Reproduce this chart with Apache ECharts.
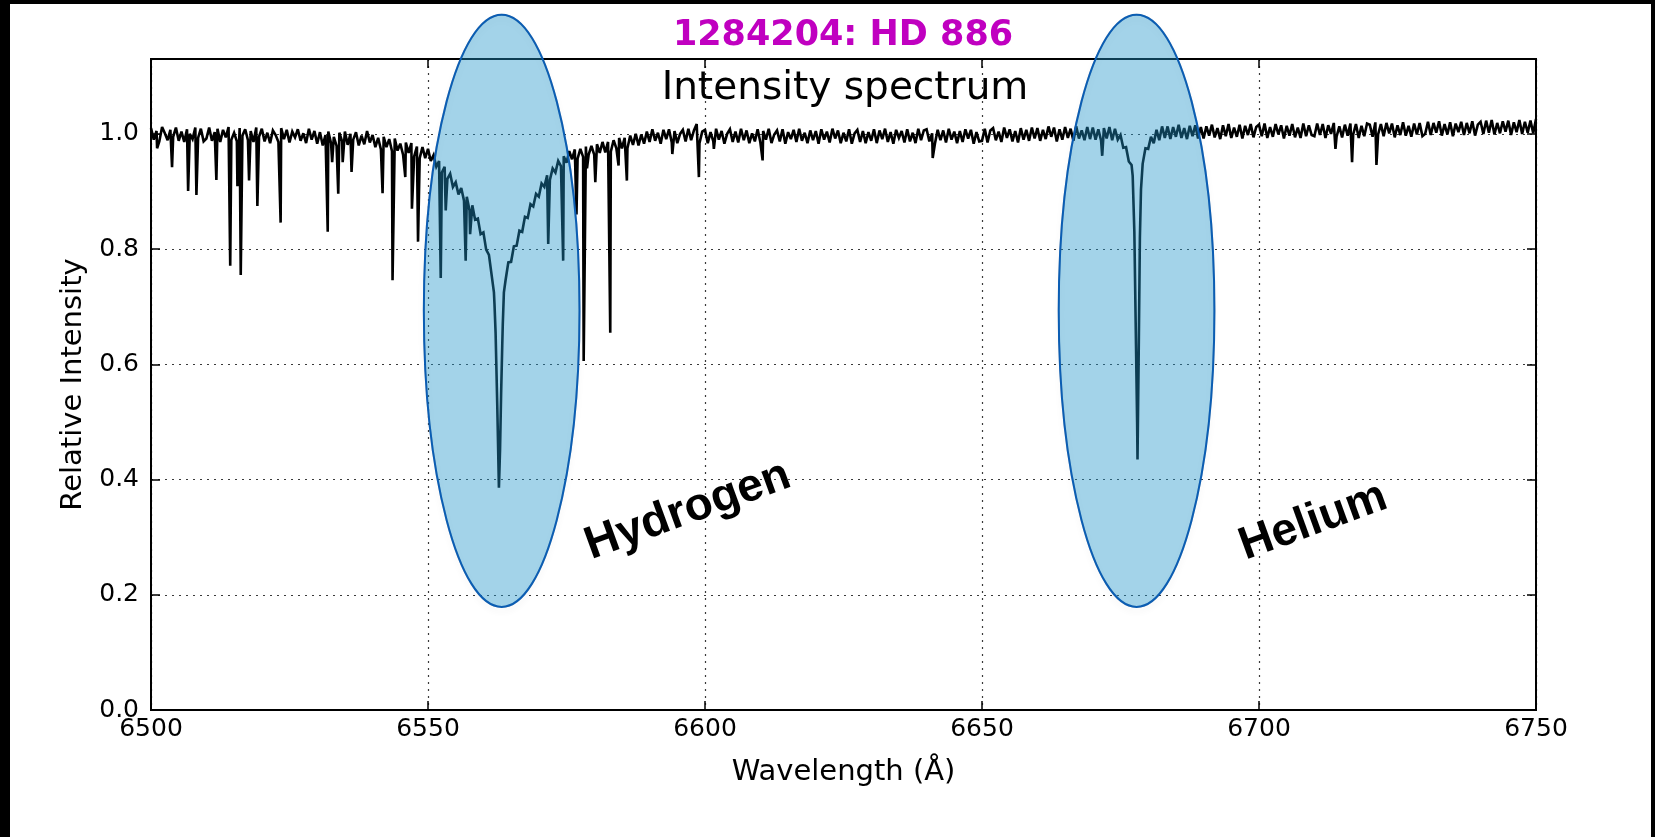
<!DOCTYPE html>
<html>
<head>
<meta charset="utf-8">
<title>1284204: HD 886 – Intensity spectrum</title>
<script src="https://cdn.jsdelivr.net/npm/echarts@6/dist/echarts.min.js"></script>
<style>
  html, body { margin: 0; padding: 0; background: #fff; }
  #chart { width: 1655px; height: 837px; }
</style>
</head>
<body>
<div id="chart"></div>
<script>
// ---------------------------------------------------------------
// Spectrum samples: relative intensity on a regular 0.5 Å grid
// starting at 6500 Å (one row = 10 Å).
// ---------------------------------------------------------------
const gridStart = 6500;
const gridStep = 0.5;
const fluxGrid = [
  // 6500
  1.010, 0.990, 1.005, 0.987, 1.012, 1.001, 0.989, 1.007, 0.995, 1.011, 0.988, 1.004, 0.986, 1.008, 1.000, 0.991, 1.011, 0.993, 1.009, 0.987,
  // 6510
  0.992, 1.011, 0.988, 1.003, 1.009, 0.986, 1.007, 0.994, 1.012, 0.990, 1.002, 0.987, 1.010, 0.997, 1.008, 0.989, 1.005, 0.986, 1.011, 0.995,
  // 6520
  1.009, 0.987, 1.002, 0.984, 1.006, 0.998, 0.986, 1.010, 0.991, 1.007, 0.985, 1.004, 0.994, 1.008, 0.988, 1.001, 0.984, 1.009, 0.990, 1.005,
  // 6530
  0.983, 1.003, 0.980, 0.998, 1.004, 0.984, 0.995, 0.979, 1.002, 0.987, 1.004, 0.981, 1.000, 0.990, 1.003, 0.980, 0.997, 0.982, 1.005, 0.985,
  // 6540
  0.998, 0.977, 0.993, 0.973, 0.995, 0.977, 0.991, 0.970, 0.992, 0.971, 0.983, 0.964, 0.985, 0.967, 0.984, 0.961, 0.978, 0.958, 0.977, 0.958,
  // 6550  (H-alpha blue wing)
  0.974, 0.953, 0.963, 0.943, 0.953, 0.933, 0.943, 0.922, 0.931, 0.908, 0.916, 0.895, 0.906, 0.884, 0.891, 0.867, 0.876, 0.851, 0.853, 0.826,
  // 6560  (H-alpha core and red wing)
  0.829, 0.799, 0.790, 0.754, 0.705, 0.530, 0.450, 0.670, 0.746, 0.777, 0.778, 0.805, 0.806, 0.832, 0.830, 0.856, 0.854, 0.878, 0.874, 0.896,
  // 6570
  0.891, 0.914, 0.908, 0.928, 0.920, 0.940, 0.933, 0.953, 0.944, 0.961, 0.950, 0.970, 0.956, 0.973, 0.957, 0.974, 0.960, 0.978, 0.964, 0.979,
  // 6580
  0.964, 0.982, 0.967, 0.986, 0.968, 0.986, 0.969, 0.989, 0.975, 0.993, 0.975, 0.993, 0.975, 0.997, 0.981, 1.000, 0.980, 0.999, 0.983, 1.004,
  // 6590
  0.986, 1.008, 0.988, 1.002, 0.983, 1.007, 0.991, 1.008, 0.985, 1.005, 0.984, 1.000, 1.007, 0.987, 1.009, 0.989, 1.006, 1.017, 0.984, 1.004,
  // 6600
  1.007, 0.984, 1.003, 0.987, 1.009, 0.990, 1.005, 0.983, 1.000, 1.008, 0.986, 1.004, 0.985, 1.009, 0.989, 1.006, 0.984, 1.001, 0.987, 1.008,
  // 6610
  0.985, 1.005, 0.990, 1.009, 0.984, 0.999, 1.006, 0.987, 1.008, 0.983, 1.003, 0.991, 1.007, 0.986, 1.009, 0.988, 1.002, 0.984, 1.006, 0.989,
  // 6620
  1.005, 0.983, 1.008, 0.990, 1.004, 0.985, 1.009, 0.992, 1.006, 0.984, 1.002, 0.987, 1.008, 0.983, 1.001, 1.007, 0.986, 1.005, 0.984, 1.003,
  // 6630
  0.988, 1.008, 0.984, 1.006, 0.991, 1.009, 0.986, 1.003, 0.983, 1.007, 0.993, 1.005, 0.985, 1.008, 0.987, 1.002, 0.984, 1.009, 0.989, 1.006,
  // 6640
  1.008, 0.987, 1.001, 0.983, 1.007, 0.989, 1.006, 0.985, 1.009, 0.990, 1.004, 0.984, 1.005, 0.986, 1.008, 0.992, 1.007, 0.983, 1.003, 0.987,
  // 6650
  0.988, 1.009, 0.985, 1.006, 1.010, 0.989, 1.004, 0.986, 1.011, 0.993, 1.008, 0.987, 1.005, 0.985, 1.010, 0.990, 1.007, 0.988, 1.011, 0.992,
  // 6660
  1.010, 0.988, 1.007, 0.991, 1.013, 0.995, 1.011, 0.987, 1.008, 0.990, 1.012, 0.993, 1.009, 0.988, 1.013, 0.992, 1.006, 0.989, 1.012, 0.991,
  // 6670  (He I 6678)
  1.011, 0.990, 1.008, 0.988, 1.010, 0.992, 1.012, 0.989, 1.009, 0.990, 0.998, 0.976, 0.977, 0.952, 0.946, 0.830, 0.500, 0.820, 0.948, 0.975,
  // 6680
  0.974, 0.995, 0.984, 1.007, 0.989, 1.013, 0.993, 1.013, 0.991, 1.012, 0.995, 1.016, 0.993, 1.010, 0.991, 1.014, 0.996, 1.015, 0.992, 1.012,
  // 6690
  0.992, 1.013, 0.997, 1.016, 0.994, 1.010, 0.991, 1.015, 0.996, 1.017, 0.993, 1.011, 0.995, 1.016, 0.992, 1.014, 0.998, 1.017, 0.994, 1.012,
  // 6700
  1.016, 0.996, 1.018, 0.993, 1.012, 0.995, 1.017, 0.999, 1.015, 0.992, 1.014, 0.997, 1.017, 0.994, 1.011, 0.993, 1.018, 0.996, 1.015, 0.998,
  // 6710
  0.996, 1.018, 0.998, 1.017, 0.993, 1.015, 1.000, 1.019, 0.995, 1.013, 0.994, 1.016, 0.997, 1.018, 0.999, 1.017, 0.993, 1.014, 0.996, 1.018,
  // 6720
  1.016, 0.995, 1.020, 0.999, 1.017, 0.996, 1.019, 1.001, 1.018, 0.994, 1.015, 0.998, 1.020, 0.997, 1.014, 0.995, 1.018, 0.999, 1.019, 0.996,
  // 6730
  1.000, 1.021, 0.998, 1.019, 1.002, 1.022, 0.997, 1.017, 0.999, 1.020, 0.996, 1.018, 1.003, 1.021, 0.998, 1.019, 1.001, 1.022, 0.997, 1.016,
  // 6740
  1.021, 1.000, 1.023, 1.002, 1.024, 0.999, 1.019, 1.001, 1.022, 1.004, 1.023, 0.998, 1.020, 1.003, 1.024, 1.000, 1.021, 1.002, 1.023, 1.001,
  // 6750
  1.026
];

// Narrow metal / telluric absorption lines: [wavelength Å, relative intensity at line centre]
const absorptionLines = [
  [6501.1, 0.975], [6503.8, 0.942], [6506.7, 0.901], [6508.2, 0.894], [6511.8, 0.920],
  [6514.3, 0.771], [6515.6, 0.909], [6516.2, 0.755], [6517.7, 0.919], [6519.2, 0.875],
  [6523.4, 0.846], [6531.9, 0.830], [6532.7, 0.951], [6533.8, 0.896], [6534.6, 0.951],
  [6536.2, 0.934], [6541.8, 0.897], [6543.6, 0.746], [6545.9, 0.925], [6547.1, 0.870],
  [6548.2, 0.813], [6552.3, 0.750], [6553.2, 0.867], [6556.8, 0.780], [6557.6, 0.826],
  [6571.7, 0.809], [6574.4, 0.780], [6576.8, 0.860], [6578.1, 0.606], [6578.7, 0.940],
  [6580.2, 0.916], [6582.9, 0.655], [6584.4, 0.945], [6585.9, 0.919], [6594.1, 0.965],
  [6598.9, 0.925], [6601.6, 0.974], [6610.4, 0.954], [6641.1, 0.958], [6671.7, 0.962],
  [6713.8, 0.974], [6716.8, 0.951], [6721.2, 0.946]
];

// Extra samples through the narrow cores of the two strong lines
const hAlphaCore = [[6561.9, 0.725], [6562.2, 0.655], [6562.8, 0.386], [6563.2, 0.550], [6563.4, 0.632], [6563.7, 0.725]];
const heCore = [[6677.2, 0.927], [6677.8, 0.632], [6678.07, 0.435], [6678.3, 0.632], [6678.7, 0.904]];

// Highlighted spectral features
const featureNames = ['Hydrogen', 'Helium'];
const featureLines = [6563.3, 6677.9];   // Å

// ---------------------------------------------------------------
// Annotation layout (data units)
// ---------------------------------------------------------------
const ELLIPSE = { cy: 0.693, rx: 14.05, ry: 0.514 };
const LABEL = { dx: [33.6, 31.9], y: [0.346, 0.327], angle: 20 };

const spectrum = fluxGrid
  .map((f, i) => [gridStart + i * gridStep, f])
  .concat(absorptionLines, hAlphaCore, heCore)
  .sort((a, b) => a[0] - b[0]);

const FONT = "'DejaVu Sans', 'Noto Sans', sans-serif";

const chart = echarts.init(document.getElementById('chart'), null, { renderer: 'canvas' });

const axisLineStyle = { color: '#000', width: 2 };
const tickStyle = { show: true, inside: true, length: 9, lineStyle: { color: '#000', width: 1.5 } };
const dotted = { show: true, lineStyle: { color: '#3a3a3a', width: 1.2, type: [2, 5] } };

chart.setOption({
  animation: false,
  backgroundColor: '#fff',
  title: [
    {
      text: '1284204: HD 886',
      left: 843, top: 18, textAlign: 'center', padding: 0,
      textStyle: { color: '#c000c0', fontFamily: FONT, fontWeight: 'bold', fontSize: 35 }
    },
    {
      text: 'Intensity spectrum',
      left: 845, top: 69, textAlign: 'center', padding: 0,
      textStyle: { color: '#000', fontFamily: FONT, fontWeight: 'normal', fontSize: 39 }
    }
  ],
  grid: {
    left: 151, top: 59, width: 1385, height: 651,
    show: true, borderColor: '#000', borderWidth: 2, backgroundColor: 'transparent'
  },
  xAxis: [
    {
      type: 'value', min: 6500, max: 6750, interval: 50, position: 'bottom',
      axisLine: { show: true, onZero: false, lineStyle: axisLineStyle },
      axisTick: tickStyle,
      axisLabel: { color: '#000', fontFamily: FONT, fontSize: 25, margin: 7, formatter: v => String(v) },
      splitLine: dotted,
      name: 'Wavelength (Å)', nameLocation: 'middle', nameGap: 48,
      nameTextStyle: { color: '#000', fontFamily: FONT, fontSize: 29 }
    },
    {
      type: 'value', min: 6500, max: 6750, interval: 50, position: 'top',
      axisLine: { show: true, onZero: false, lineStyle: axisLineStyle },
      axisTick: tickStyle, axisLabel: { show: false }, splitLine: { show: false }
    }
  ],
  yAxis: [
    {
      type: 'value', min: 0, max: 1.13, interval: 0.2, position: 'left',
      axisLine: { show: true, onZero: false, lineStyle: axisLineStyle },
      axisTick: tickStyle,
      axisLabel: { color: '#000', fontFamily: FONT, fontSize: 25, margin: 12, showMaxLabel: false,
                   formatter: v => v.toFixed(1) },
      splitLine: dotted,
      name: 'Relative Intensity', nameLocation: 'middle', nameGap: 63, nameRotate: 90,
      nameTextStyle: { color: '#000', fontFamily: FONT, fontSize: 29 }
    },
    {
      type: 'value', min: 0, max: 1.13, interval: 0.2, position: 'right',
      axisLine: { show: true, onZero: false, lineStyle: axisLineStyle },
      axisTick: tickStyle, axisLabel: { show: false }, splitLine: { show: false }
    }
  ],
  series: [
    {
      name: 'Intensity', type: 'line', data: spectrum,
      xAxisIndex: 0, yAxisIndex: 0,
      showSymbol: false, symbol: 'none', sampling: null, smooth: false,
      lineStyle: { color: '#000', width: 2.6, join: 'miter', miterLimit: 3 }, z: 2, silent: true
    },
    {
      name: 'Line regions', type: 'custom', coordinateSystem: 'cartesian2d',
      xAxisIndex: 0, yAxisIndex: 0, clip: false, silent: true, z: 3,
      data: featureLines.map(w => [w, ELLIPSE.cy]),
      renderItem: (params, api) => {
        const c = api.coord([api.value(0), api.value(1)]);
        const s = api.size([ELLIPSE.rx, ELLIPSE.ry]);
        const shape = { cx: c[0], cy: c[1], rx: s[0], ry: s[1] };
        return {
          type: 'group',
          children: [
            {
              // soft drop shadow cast by the outline only
              type: 'ellipse', shape,
              style: { fill: null, stroke: 'rgba(0,0,0,0.18)', lineWidth: 2,
                       shadowBlur: 6, shadowOffsetY: 4, shadowColor: 'rgba(0,0,0,0.35)' }
            },
            {
              type: 'ellipse', shape,
              style: { fill: 'rgba(32,147,201,0.41)', stroke: '#0b5db3', lineWidth: 2 }
            }
          ]
        };
      }
    },
    {
      name: 'Line names', type: 'custom', coordinateSystem: 'cartesian2d',
      xAxisIndex: 0, yAxisIndex: 0, clip: false, silent: true, z: 4,
      data: featureLines.map((w, i) => [w + LABEL.dx[i], LABEL.y[i], i]),
      renderItem: (params, api) => {
        const c = api.coord([api.value(0), api.value(1)]);
        return {
          type: 'text', x: c[0], y: c[1], rotation: LABEL.angle * Math.PI / 180,
          style: {
            text: featureNames[api.value(2)], fill: '#000',
            font: "bold 46px 'Liberation Sans', Arial, sans-serif",
            align: 'center', verticalAlign: 'middle'
          }
        };
      }
    }
  ],
  graphic: [
    { type: 'rect', left: 0, top: 0, z: 100, shape: { width: 10, height: 837 }, style: { fill: '#000' } },
    { type: 'rect', left: 0, top: 0, z: 100, shape: { width: 1655, height: 4 }, style: { fill: '#000' } },
    { type: 'rect', right: 0, top: 0, z: 100, shape: { width: 4, height: 837 }, style: { fill: '#000' } }
  ]
});
</script>
</body>
</html>
